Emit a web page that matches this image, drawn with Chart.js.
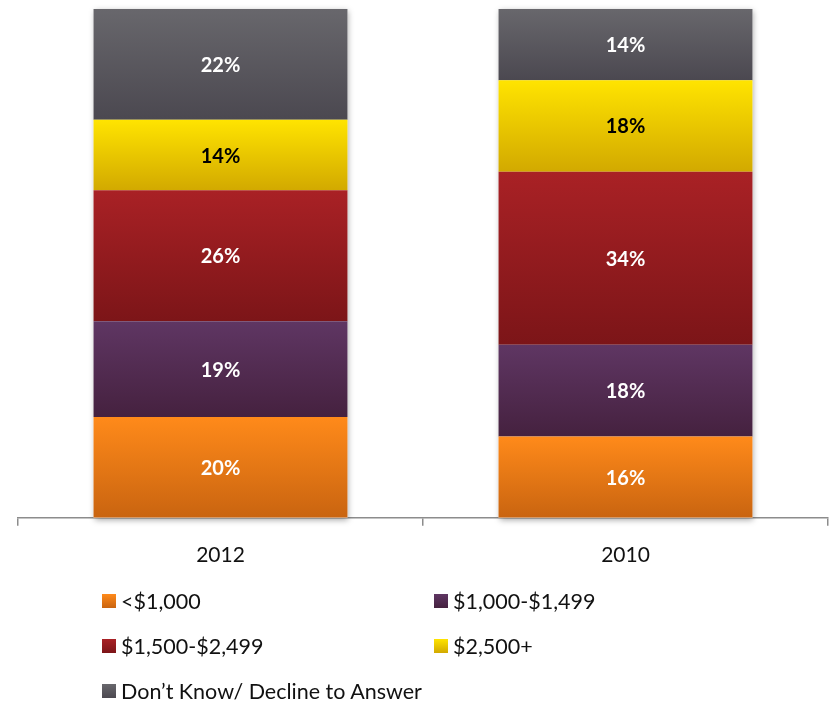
<!DOCTYPE html>
<html>
<head>
<meta charset="utf-8">
<script src="https://cdn.jsdelivr.net/npm/chart.js@4.4.1/dist/chart.umd.min.js"></script>
<style>
  html, body { margin: 0; padding: 0; background: #fff; }
  body { width: 831px; height: 703px; position: relative; overflow: hidden; font-family: Lato, "Open Sans", sans-serif; }
  #wrap { position: absolute; left: 0; top: 0; width: 831px; height: 585px; }
  #legend { position: absolute; left: 0; top: 580px; width: 831px; height: 123px; }
  .item { position: absolute; display: flex; align-items: center; font-size: 21.5px; color: #111; white-space: nowrap; }
  .box { width: 14px; height: 14px; margin-right: 5px; }
</style>
</head>
<body>
<div id="wrap"><canvas id="c" width="831" height="585"></canvas></div>
<div id="legend"></div>
<script>
// Survey categories and answer shares (percent)
const years = ['2012', '2010'];
const seriesNames = ['<$1,000', '$1,000-$1,499', '$1,500-$2,499', '$2,500+', 'Don\u2019t Know/ Decline to Answer'];
const under1000 = [20, 16];
const from1000to1499 = [19, 18];
const from1500to2499 = [26, 34];
const over2500 = [14, 18];
const dontKnow = [22, 14];
const seriesValues = [under1000, from1000to1499, from1500to2499, over2500, dontKnow];

// Gradient stops per series: [top, bottom]
const shades = [
  ['#ff8a1a', '#c96410'],
  ['#5f3663', '#45213f'],
  ['#a92125', '#7c1518'],
  ['#ffe400', '#d2a900'],
  ['#68676c', '#4b4850']
];
const labelColors = ['#fff', '#fff', '#fff', '#000', '#fff'];

// Each column is shown as a 100% stack
const totals = years.map((_, i) => seriesValues.reduce((s, arr) => s + arr[i], 0));
const shares = seriesValues.map(arr => arr.map((v, i) => v / totals[i] * 100));

function segmentGradient(ctx, dsIndex) {
  const chart = ctx.chart;
  const i = ctx.dataIndex;
  const y = chart.scales && chart.scales.y;
  if (!y || i === undefined) return shades[dsIndex][0];
  let start = 0;
  for (let d = 0; d < dsIndex; d++) start += shares[d][i];
  const end = start + shares[dsIndex][i];
  const yTop = y.getPixelForValue(end);
  const yBot = y.getPixelForValue(start);
  if (!isFinite(yTop) || !isFinite(yBot)) return shades[dsIndex][0];
  const g = chart.ctx.createLinearGradient(0, yTop, 0, yBot);
  g.addColorStop(0, shades[dsIndex][0]);
  g.addColorStop(1, shades[dsIndex][1]);
  return g;
}

// Soft shadow behind each full column
const columnShadow = {
  id: 'columnShadow',
  beforeDatasetsDraw(chart) {
    const ctx = chart.ctx;
    const first = chart.getDatasetMeta(0).data;
    const last = chart.getDatasetMeta(seriesValues.length - 1).data;
    ctx.save();
    first.forEach((bar, i) => {
      const top = last[i].y;
      const bottom = bar.base;
      const w = bar.width;
      ctx.shadowColor = 'rgba(0,0,0,0.35)';
      ctx.shadowBlur = 6;
      ctx.shadowOffsetX = 1;
      ctx.shadowOffsetY = 2;
      ctx.fillStyle = '#fff';
      ctx.fillRect(bar.x - w / 2, top, w, bottom - top);
    });
    ctx.restore();
  }
};

// Percent labels centred in each segment
const segmentLabels = {
  id: 'segmentLabels',
  afterDatasetsDraw(chart) {
    const ctx = chart.ctx;
    ctx.save();
    ctx.font = 'bold 20px Lato, "Open Sans", sans-serif';
    ctx.textAlign = 'center';
    ctx.textBaseline = 'middle';
    chart.data.datasets.forEach((ds, d) => {
      chart.getDatasetMeta(d).data.forEach((bar, i) => {
        ctx.fillStyle = labelColors[d];
        ctx.fillText(seriesValues[d][i] + '%', bar.x, (bar.y + bar.base) / 2 + 1);
      });
    });
    ctx.restore();
  }
};

new Chart(document.getElementById('c'), {
  type: 'bar',
  data: {
    labels: years,
    datasets: seriesNames.map((name, d) => ({
      label: name,
      data: shares[d],
      backgroundColor: ctx => segmentGradient(ctx, d),
      borderWidth: 0,
      categoryPercentage: 1,
      barPercentage: 0.627
    }))
  },
  options: {
    responsive: false,
    animation: false,
    devicePixelRatio: 1,
    layout: { padding: { left: 18, right: 3, top: 9, bottom: 0 } },
    plugins: { legend: { display: false }, tooltip: { enabled: false } },
    scales: {
      x: {
        stacked: true,
        grid: { offset: true, drawOnChartArea: false, drawTicks: true, tickLength: 8, color: '#8c8c8c', lineWidth: 1.5 },
        border: { display: true, color: '#8c8c8c', width: 1.5 },
        ticks: { color: '#111', font: { family: 'Lato, "Open Sans", sans-serif', size: 21 }, padding: 17 }
      },
      y: { stacked: true, display: false, min: 0, max: 100 }
    }
  },
  plugins: [columnShadow, segmentLabels]
});

// Two-column legend below the chart
const legend = document.getElementById('legend');
const positions = [[102, 21], [434, 21], [102, 66], [434, 66], [102, 111]];
seriesNames.forEach((name, d) => {
  const item = document.createElement('div');
  item.className = 'item';
  item.style.left = positions[d][0] + 'px';
  item.style.top = (positions[d][1] - 13) + 'px';
  const box = document.createElement('span');
  box.className = 'box';
  box.style.background = 'linear-gradient(' + shades[d][0] + ',' + shades[d][1] + ')';
  const text = document.createElement('span');
  text.textContent = name;
  item.appendChild(box);
  item.appendChild(text);
  legend.appendChild(item);
});
</script>
</body>
</html>
